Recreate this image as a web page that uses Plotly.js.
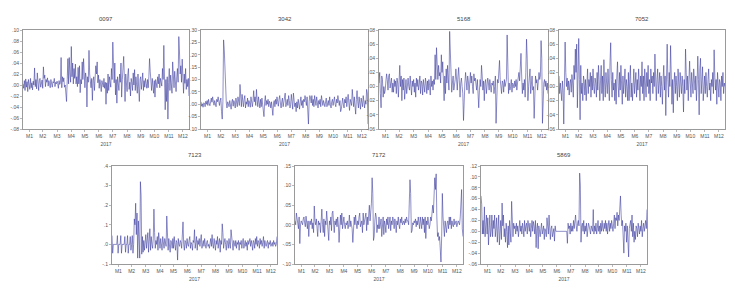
<!DOCTYPE html>
<html><head><meta charset="utf-8">
<script src="https://cdn.plot.ly/plotly-3.0.1.min.js"></script>
<style>html,body{margin:0;padding:0;background:#fff}#chart{width:735px;height:292px}</style>
</head><body><div id="chart"></div>
<script>
const monthLabels = ['M1','M2','M3','M4','M5','M6','M7','M8','M9','M10','M11','M12'];
const monthDays = [20,19,23,19,21,20,21,21,19,21,22,19];
const yearLabel = '2017';
const seriesNames = ['0097','3042','5168','7052','7123','7172','5869'];

const s0097 = [
0.002,-0.006,0.008,-0.010,0.011,-0.004,0.006,-0.012,0.010,0.003,-0.008,0.012,-0.005,0.004,-0.009,0.007,0.000,0.031,-0.003,0.010,
-0.007,0.022,0.004,-0.010,0.008,0.012,-0.004,0.006,0.009,-0.006,0.033,0.012,0.018,-0.003,0.010,0.005,0.013,-0.002,0.008,
0.003,-0.005,0.010,0.002,-0.004,0.006,0.004,0.012,-0.003,0.005,0.002,0.007,0.003,-0.006,0.008,0.001,0.004,0.050,-0.005,0.015,0.006,0.013,-0.004,
0.000,-0.016,-0.030,0.010,0.048,0.002,0.050,0.020,0.005,0.070,0.015,0.040,0.002,0.030,0.012,0.038,0.002,0.015,-0.003,
0.032,0.002,0.035,-0.014,0.010,0.002,0.042,0.010,0.048,0.030,-0.005,0.022,0.012,-0.040,0.015,0.005,0.063,0.020,0.006,-0.005,0.012,
-0.028,0.008,0.015,-0.010,0.005,0.035,0.020,0.042,0.004,0.018,-0.006,0.010,0.002,-0.012,0.008,0.004,-0.004,0.012,-0.006,0.005,
-0.035,0.004,-0.015,0.020,-0.010,0.015,0.008,-0.004,0.030,0.010,0.078,0.020,0.004,0.040,-0.018,0.010,-0.033,0.015,0.005,-0.010,0.020,
0.005,0.040,-0.022,0.010,0.025,0.052,0.015,-0.030,0.020,0.004,-0.012,0.018,0.030,-0.008,0.005,-0.020,0.012,0.004,-0.010,0.022,0.000,
0.028,-0.010,0.015,0.004,-0.015,0.020,0.002,-0.030,0.010,0.015,-0.008,0.005,0.022,-0.010,0.008,-0.004,0.012,0.003,-0.006,
0.010,-0.005,0.015,0.048,0.025,0.005,-0.010,0.012,0.002,-0.015,0.008,-0.022,0.010,0.004,-0.005,0.015,0.002,0.020,-0.005,0.012,0.005,
-0.002,0.030,0.010,0.072,0.020,-0.045,0.010,-0.030,0.015,-0.062,0.005,0.030,-0.010,0.018,0.002,-0.015,0.042,0.010,-0.005,0.025,0.005,-0.012,
0.015,0.030,0.005,0.088,0.060,0.020,0.035,0.005,0.047,0.012,-0.015,0.020,0.003,0.030,-0.008,0.010,-0.003,0.012,-0.020];

const s3042 = [
0.010,-0.008,0.002,-0.012,0.006,0.004,-0.010,0.012,0.000,0.015,-0.005,0.020,0.003,-0.006,0.010,0.025,0.008,0.030,0.012,-0.004,
0.015,0.005,-0.010,0.020,0.010,0.030,0.012,-0.005,0.015,0.025,-0.030,-0.060,0.010,0.260,0.220,0.150,0.020,0.005,-0.015,
0.010,0.002,-0.010,0.015,0.000,-0.020,0.010,0.020,-0.008,0.015,0.005,-0.015,0.025,0.010,-0.010,0.030,0.008,-0.005,0.080,0.020,-0.010,0.040,0.005,
-0.010,0.020,0.035,-0.015,0.010,0.000,0.025,-0.010,0.015,0.005,-0.012,0.030,0.008,-0.010,0.015,0.055,0.010,0.030,-0.005,
0.060,0.020,-0.010,0.030,0.005,-0.015,0.020,-0.010,0.025,0.000,-0.030,-0.050,0.010,0.035,-0.005,0.015,0.000,0.020,-0.010,0.012,0.005,
-0.015,0.010,-0.030,-0.045,0.005,0.015,-0.010,0.020,0.000,0.030,0.010,-0.008,0.020,0.035,0.005,-0.015,0.010,0.025,-0.010,0.005,
0.030,0.045,-0.010,0.010,0.020,-0.005,0.035,0.015,-0.015,0.000,0.040,0.010,-0.020,0.045,0.015,-0.010,0.005,-0.030,0.010,-0.015,0.020,
0.000,-0.020,0.010,0.030,-0.005,0.015,-0.015,0.020,0.010,0.035,0.015,-0.005,0.030,-0.030,-0.080,0.010,0.035,0.025,0.005,0.035,-0.005,
0.020,-0.010,0.035,0.005,-0.005,0.030,0.010,-0.015,0.015,0.000,0.020,-0.010,0.035,0.010,-0.005,0.015,0.000,-0.010,0.010,
0.025,-0.010,0.005,0.015,-0.005,0.030,0.000,-0.015,0.010,0.020,-0.005,0.010,0.030,0.000,-0.010,0.020,0.005,0.035,0.010,-0.005,0.015,
-0.030,-0.020,0.010,0.025,0.000,-0.015,0.020,0.005,0.030,-0.010,0.015,0.040,0.005,-0.025,0.020,0.010,-0.005,0.060,0.015,-0.010,0.030,0.005,
-0.040,0.020,0.055,0.010,-0.015,0.030,0.000,-0.020,0.025,0.010,-0.010,0.035,0.005,-0.015,0.015,0.000,0.060,0.045,-0.080];

const s5168 = [
0.005,0.020,-0.010,-0.030,0.015,0.010,-0.015,0.000,-0.010,-0.005,0.008,0.018,0.010,-0.005,0.015,0.018,-0.002,0.010,0.012,-0.008,
0.005,-0.008,0.010,0.000,0.008,-0.010,0.012,0.005,-0.015,0.008,0.030,0.000,0.015,-0.020,0.010,-0.005,0.012,-0.018,0.005,
0.010,-0.010,0.005,0.012,0.000,-0.005,0.015,0.005,-0.012,0.008,0.000,0.010,-0.008,0.005,-0.015,0.012,0.000,0.010,-0.005,0.003,0.015,-0.010,0.008,
0.005,-0.012,0.010,0.000,-0.008,0.012,0.005,-0.010,0.008,-0.005,0.010,0.002,-0.012,0.015,0.000,0.008,-0.005,0.010,0.003,
0.045,0.010,0.055,0.025,0.010,0.030,0.015,0.020,0.005,0.045,0.020,0.035,0.000,-0.020,0.015,-0.010,0.025,0.005,0.030,0.010,-0.005,
0.078,0.040,0.010,-0.008,0.005,0.015,-0.005,0.000,0.010,0.025,0.012,-0.005,0.015,0.027,0.008,-0.015,0.005,0.012,0.000,-0.010,
-0.048,-0.010,0.005,0.020,0.010,-0.005,0.015,0.008,-0.010,0.012,0.020,0.005,0.015,0.000,-0.010,0.018,0.008,0.012,0.002,-0.005,0.010,
-0.010,-0.030,-0.005,0.010,0.000,0.030,0.015,-0.005,0.008,-0.020,0.005,0.010,-0.010,0.000,0.012,0.005,-0.005,0.010,0.003,-0.008,0.005,
0.002,0.008,-0.010,0.000,0.015,-0.052,-0.005,0.010,0.005,0.020,0.037,0.010,0.000,-0.010,0.008,0.005,-0.008,0.010,0.000,
0.005,0.010,0.073,0.040,-0.010,0.005,-0.005,0.000,0.010,-0.008,0.005,0.003,-0.002,0.008,0.000,0.010,-0.005,0.005,0.012,0.020,0.008,
0.030,0.047,0.015,-0.010,0.005,-0.005,0.010,-0.015,0.020,0.067,0.040,-0.020,0.000,0.010,0.025,-0.010,0.005,0.015,-0.005,0.000,-0.045,-0.010,
0.015,0.005,0.010,-0.005,0.015,0.020,0.010,0.015,0.065,0.040,-0.052,-0.010,0.005,0.010,0.000,0.008,-0.005,0.005,-0.010];

const s7052 = [
0.015,-0.010,0.005,-0.015,-0.020,0.008,-0.005,-0.053,-0.010,0.063,0.020,0.000,0.012,-0.005,0.008,-0.012,0.004,0.010,-0.008,0.017,
0.005,-0.015,0.030,0.010,0.053,0.020,0.060,-0.030,0.015,0.068,0.010,-0.047,0.030,-0.010,0.005,-0.020,0.015,0.008,-0.012,
0.010,-0.020,0.005,0.025,-0.010,0.010,0.000,0.020,-0.015,0.015,-0.005,0.025,0.000,-0.010,0.012,0.005,-0.015,0.020,-0.005,0.030,0.010,-0.020,0.008,
0.030,-0.010,0.015,-0.020,0.038,0.005,-0.015,0.020,0.000,-0.010,0.025,0.010,-0.020,0.035,0.062,0.010,-0.015,0.020,-0.005,
0.005,-0.020,0.010,-0.025,0.015,0.035,0.000,-0.015,0.020,-0.005,0.030,0.010,-0.025,0.015,-0.010,0.005,0.025,-0.015,0.010,0.000,-0.020,
0.020,-0.020,0.010,0.030,-0.015,0.005,-0.020,0.015,0.025,-0.010,0.000,0.020,-0.015,0.010,-0.005,0.025,0.005,-0.020,0.015,0.000,
0.035,-0.010,0.015,-0.020,0.025,0.005,-0.015,0.020,0.000,0.030,-0.010,0.010,-0.020,0.025,0.005,0.015,-0.010,0.020,0.000,0.046,-0.005,
-0.020,0.010,0.025,-0.010,0.005,0.020,-0.015,0.015,0.000,-0.025,0.010,0.030,-0.005,0.015,-0.041,0.005,0.060,0.010,-0.015,0.020,0.000,
0.058,0.020,-0.025,0.010,-0.037,0.005,0.020,-0.010,0.015,0.000,-0.020,0.025,0.010,-0.015,0.020,0.005,-0.010,0.015,0.000,
-0.036,0.010,-0.010,0.053,0.020,-0.005,0.015,-0.020,0.010,0.036,0.005,-0.015,0.020,0.000,-0.010,0.025,0.010,-0.005,0.015,-0.020,0.005,
0.043,0.010,-0.040,0.025,0.040,-0.010,0.015,0.028,-0.020,0.005,0.015,-0.010,0.020,0.000,-0.015,0.010,0.025,-0.005,0.005,-0.020,0.010,0.000,
0.020,-0.010,0.052,0.015,-0.005,0.010,-0.025,0.020,0.000,-0.015,0.010,0.005,-0.020,0.015,0.000,0.020,-0.010,0.005,0.000];

const s7123 = [
0.045,-0.045,0.000,0.000,0.000,0.000,0.000,0.000,0.045,-0.045,0.000,0.000,0.000,0.045,-0.045,0.000,0.000,0.000,0.000,0.040,
-0.040,0.000,0.000,0.045,-0.045,0.000,0.000,0.040,-0.030,0.000,0.045,-0.045,0.000,0.130,0.100,0.210,0.050,0.160,-0.070,
0.120,0.030,-0.070,0.320,0.250,-0.050,0.040,-0.040,0.020,-0.030,0.010,0.050,-0.020,0.030,0.060,-0.040,0.020,0.080,-0.030,0.040,0.000,-0.020,0.030,
0.180,0.060,-0.020,0.020,0.000,0.040,-0.030,0.060,0.010,-0.020,0.030,0.000,-0.030,0.040,0.010,-0.020,0.030,0.000,-0.010,
0.145,0.020,-0.030,0.030,0.000,-0.040,0.020,0.010,-0.020,0.030,-0.020,0.040,0.000,-0.030,0.020,0.010,-0.080,0.030,0.000,-0.010,0.020,
0.010,-0.020,0.030,0.115,0.000,-0.030,0.020,0.010,-0.020,0.030,0.000,-0.010,0.020,0.040,-0.020,0.010,0.000,-0.030,0.020,0.010,
0.075,-0.020,0.010,0.040,-0.030,0.020,0.000,0.030,-0.010,0.010,0.050,-0.020,0.000,0.020,-0.010,0.030,0.000,-0.020,0.010,0.020,-0.010,
0.000,-0.020,0.010,0.030,-0.010,0.050,0.000,-0.020,0.030,0.010,-0.030,0.020,0.000,0.040,-0.020,0.010,0.030,-0.040,0.020,0.000,0.105,
0.060,-0.020,0.010,0.030,0.000,-0.030,0.020,0.010,-0.020,0.030,0.000,-0.020,0.075,0.020,0.010,-0.030,0.020,0.000,-0.010,
0.020,-0.020,0.010,0.000,0.020,-0.030,0.010,0.000,0.020,-0.020,0.010,0.030,-0.020,0.000,0.020,-0.010,0.010,-0.030,0.020,0.000,0.010,
0.030,-0.010,0.020,0.000,-0.030,0.020,0.010,-0.020,0.030,0.000,0.040,-0.010,0.020,0.010,-0.020,0.030,0.000,0.020,-0.010,0.010,0.040,-0.020,
0.020,0.000,-0.010,0.010,0.020,-0.020,0.010,0.000,0.020,-0.010,0.000,0.010,-0.010,0.020,0.000,0.010,-0.010,0.000,0.040];

const s7172 = [
0.010,0.000,0.030,0.020,0.005,-0.010,0.020,-0.048,0.000,0.010,0.005,0.000,0.015,0.020,0.005,-0.005,0.022,0.005,-0.010,0.010,
-0.030,0.005,0.010,0.000,0.015,-0.010,0.005,-0.020,0.048,0.010,0.000,0.015,-0.010,-0.030,0.010,0.000,0.005,-0.020,0.010,
0.040,0.000,-0.020,0.015,-0.030,0.010,0.000,0.035,0.005,-0.010,-0.040,0.010,0.000,0.020,-0.015,0.030,0.035,0.005,-0.020,0.010,0.000,0.015,-0.005,
0.020,0.000,-0.045,0.010,0.025,0.000,0.030,-0.010,0.015,0.020,0.000,-0.010,0.005,0.000,0.010,-0.010,0.000,0.025,-0.005,
0.010,0.000,-0.010,-0.045,-0.010,0.020,0.000,0.025,0.005,-0.010,0.010,0.000,0.020,0.030,-0.005,0.005,0.010,-0.020,0.030,0.000,0.010,
0.010,0.030,-0.015,0.020,0.000,0.030,0.050,0.010,0.040,0.055,0.120,0.080,-0.040,-0.030,0.010,0.030,0.020,-0.020,0.000,-0.010,
0.020,-0.010,0.000,0.015,-0.030,0.000,0.020,-0.025,0.010,0.000,-0.020,0.015,0.000,0.020,-0.010,0.005,0.020,-0.015,0.010,0.000,0.020,
0.010,-0.010,0.015,0.005,-0.020,0.010,0.000,0.020,0.000,-0.010,0.015,0.005,0.020,0.000,0.005,0.010,0.000,0.015,0.005,0.020,0.010,
0.010,0.000,0.060,0.115,0.080,-0.020,-0.015,0.005,0.000,0.010,0.005,0.015,-0.005,0.010,0.000,0.020,0.005,-0.010,0.020,
0.000,-0.010,0.020,0.000,0.015,-0.020,0.020,-0.035,0.010,0.000,0.020,0.010,-0.010,0.000,0.020,0.010,0.040,0.050,0.030,0.060,0.120,
0.090,0.130,0.020,-0.030,-0.020,-0.040,-0.030,-0.060,-0.095,-0.030,0.080,0.020,-0.010,-0.030,0.010,0.000,-0.020,0.005,0.010,-0.010,0.020,0.000,
0.020,-0.010,0.010,0.000,-0.005,0.015,0.000,0.005,0.010,-0.005,0.000,0.010,0.005,0.000,0.020,0.075,0.090,-0.010,-0.030];

const s5869 = [
0.065,0.050,-0.005,0.020,-0.005,0.045,-0.010,0.015,0.030,-0.005,0.025,-0.025,0.010,0.030,-0.010,0.000,0.030,-0.010,0.020,0.005,
0.030,-0.010,0.005,0.025,-0.020,0.010,0.030,-0.025,0.000,0.020,-0.015,0.052,0.010,0.030,-0.010,0.005,-0.020,0.015,0.000,
-0.030,0.010,-0.025,0.020,0.000,-0.020,0.055,0.020,-0.010,0.015,0.005,0.010,-0.005,0.015,0.000,0.010,-0.010,0.005,0.020,0.000,0.010,-0.005,0.015,
0.005,-0.010,0.020,0.000,0.010,0.015,-0.005,0.020,0.010,0.000,0.015,-0.010,0.005,0.020,0.000,0.018,0.010,-0.005,0.020,
-0.030,0.005,0.015,-0.032,0.010,0.000,-0.010,0.005,0.015,-0.005,0.000,0.010,-0.015,0.005,0.000,-0.010,0.025,0.010,-0.005,0.030,0.015,
-0.015,0.005,0.010,-0.010,0.000,0.005,-0.018,0.010,0.000,0.000,0.000,0.000,0.000,0.000,0.000,0.000,0.000,0.000,0.000,0.000,
0.000,0.000,0.000,0.000,0.000,-0.022,0.015,0.005,0.010,-0.005,0.015,0.000,0.010,0.000,0.020,0.005,0.015,0.030,0.010,0.000,0.015,
0.020,0.010,0.107,0.085,-0.020,0.010,0.015,0.000,0.020,-0.005,0.010,0.000,0.015,-0.010,0.005,0.015,0.010,0.000,-0.005,0.010,0.005,
0.000,0.040,-0.005,0.010,0.000,0.015,-0.005,0.005,0.020,0.000,0.010,-0.005,0.015,0.000,0.020,0.005,0.000,0.015,0.005,
0.020,0.000,0.015,-0.005,0.010,0.020,0.000,0.015,0.005,0.020,0.010,0.000,0.015,0.030,0.005,0.025,0.020,0.035,0.010,0.030,0.020,
0.040,0.065,0.030,0.010,0.020,-0.010,-0.040,0.010,0.000,0.015,-0.020,0.010,-0.030,-0.047,0.005,0.010,0.020,0.000,0.030,-0.010,0.015,-0.020,
0.000,-0.015,0.010,0.005,-0.010,0.015,0.000,-0.005,0.010,0.000,0.020,-0.010,0.005,0.015,0.000,0.010,0.020,0.005,0.040];

const yTicks0097 = [-0.08,-0.06,-0.04,-0.02,0,0.02,0.04,0.06,0.08,0.10];
const yText0097  = ['-.08','-.06','-.04','-.02','.00','.02','.04','.06','.08','.10'];
const yTicks3042 = [-0.10,-0.05,0,0.05,0.10,0.15,0.20,0.25,0.30];
const yText3042  = ['-.10','-.05','.00','.05','.10','.15','.20','.25','.30'];
const yTicks5168 = [-0.06,-0.04,-0.02,0,0.02,0.04,0.06,0.08];
const yText5168  = ['-.06','-.04','-.02','.00','.02','.04','.06','.08'];
const yTicks7052 = [-0.06,-0.04,-0.02,0,0.02,0.04,0.06,0.08];
const yText7052  = ['-.06','-.04','-.02','.00','.02','.04','.06','.08'];
const yTicks7123 = [-0.1,0,0.1,0.2,0.3,0.4];
const yText7123  = ['-.1','.0','.1','.2','.3','.4'];
const yTicks7172 = [-0.10,-0.05,0,0.05,0.10,0.15];
const yText7172  = ['-.10','-.05','.00','.05','.10','.15'];
const yTicks5869 = [-0.06,-0.04,-0.02,0,0.02,0.04,0.06,0.08,0.10,0.12];
const yText5869  = ['-.06','-.04','-.02','.00','.02','.04','.06','.08','.10','.12'];

// ---- build ----
const W = 735, H = 292;
const series = [s0097,s3042,s5168,s7052,s7123,s7172,s5869];
const yTicks = [yTicks0097,yTicks3042,yTicks5168,yTicks7052,yTicks7123,yTicks7172,yTicks5869];
const yTexts = [yText0097,yText3042,yText5168,yText7052,yText7123,yText7172,yText5869];
// panel boxes in pixels [left, right, top, bottom]
const boxes = [[23,189,30,129],[201,368,30,129],[379,548,30,129],[559,725,30,129],
               [112,277,166,264],[295,463,166,264],[481,647,166,264]];

const monthStart = [];
let acc = 0;
monthDays.forEach(d => { monthStart.push(acc); acc += d; });
const monthMid = monthDays.map((d,i) => monthStart[i] + (d-1)/2);

const traces = [], annotations = [];
const layout = {
  width: W, height: H, margin: {l:0,r:0,t:0,b:0},
  paper_bgcolor: '#fff', plot_bgcolor: '#fff', showlegend: false,
  font: {family: 'Liberation Sans, Arial, sans-serif', size: 5, color: '#555'}
};
const fontTick = {family: 'Liberation Sans, Arial, sans-serif', size: 5, color: '#555'};

series.forEach((s, i) => {
  const k = i === 0 ? '' : String(i+1);
  const x = s.map((_, j) => j);
  traces.push({type:'scatter', mode:'lines', x: x, y: s, xaxis:'x'+k, yaxis:'y'+k,
               line:{color:'#34349a', width:0.55}, hoverinfo:'skip'});
  const b = boxes[i];
  const n = acc;
  layout['xaxis'+k] = {
    domain: [b[0]/W, b[1]/W], anchor: 'y'+k, range: [0, n-1],
    tickmode: 'array', tickvals: monthMid, ticktext: monthLabels,
    ticks: 'outside', ticklen: 2, tickwidth: 0.6, tickcolor: '#888',
    tickfont: fontTick, showgrid: false, zeroline: false,
    showline: true, mirror: true, linecolor: '#9a9a9a', linewidth: 1,
    title: {text: yearLabel, font: fontTick, standoff: 4}
  };
  layout['yaxis'+k] = {
    domain: [1 - b[3]/H, 1 - b[2]/H], anchor: 'x'+k,
    range: [yTicks[i][0], yTicks[i][yTicks[i].length-1]],
    tickmode: 'array', tickvals: yTicks[i], ticktext: yTexts[i],
    ticks: 'outside', ticklen: 2, tickwidth: 0.6, tickcolor: '#888',
    tickfont: fontTick, showgrid: false, zeroline: false,
    showline: true, mirror: true, linecolor: '#9a9a9a', linewidth: 1
  };
  annotations.push({text: seriesNames[i], xref:'paper', yref:'paper',
    x: (b[0]+b[1])/2/W, y: 1 - (b[2]-11)/H, showarrow:false,
    xanchor:'center', yanchor:'middle',
    font: {family:'Liberation Sans, Arial, sans-serif', size:6, color:'#444'}});
});
layout.annotations = annotations;

Plotly.newPlot('chart', traces, layout, {displayModeBar:false, staticPlot:true});
</script>
</body></html>
